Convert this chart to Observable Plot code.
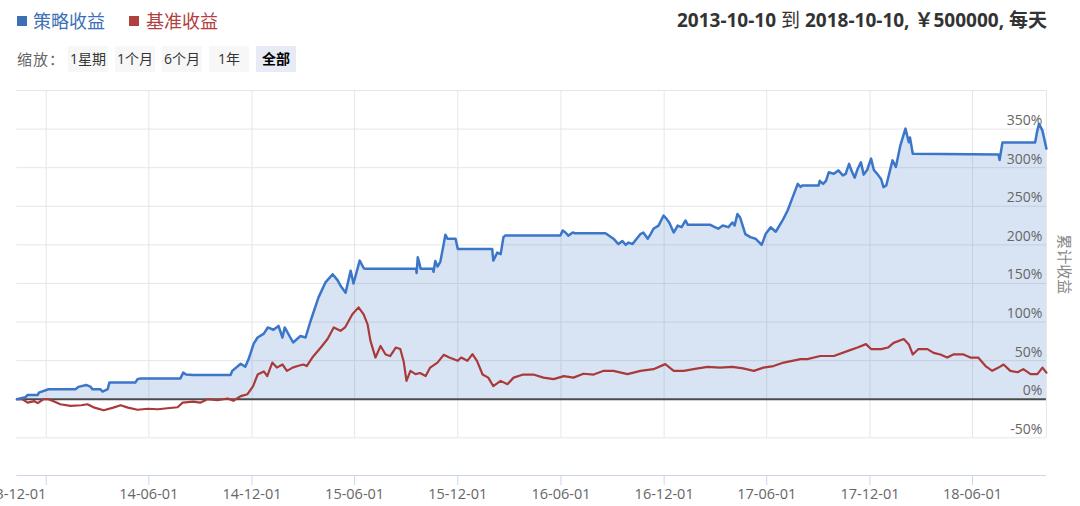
<!DOCTYPE html>
<html><head><meta charset="utf-8">
<script src="https://cdn.jsdelivr.net/npm/d3@7"></script>
<script src="https://cdn.jsdelivr.net/npm/@observablehq/plot@0.6"></script>
<style>
body{margin:0;background:#fff;font-family:"Open Sans","Noto Sans CJK SC",sans-serif;}
#wrap{position:relative;width:1080px;height:506px;overflow:hidden;background:#fff;}
.abs{position:absolute;white-space:nowrap;}
.sq{position:absolute;width:10px;height:10px;}
.leg{font-size:18px;line-height:18px;top:12px;}
.btn{position:absolute;top:46px;height:26px;line-height:26px;text-align:center;font-size:14px;color:#333;background:#f7f7f7;}
#chart{position:absolute;left:0;top:80px;}
</style></head><body>
<div id="wrap">
  <div id="legend"></div>
  <div id="title" class="abs" style="right:33px;top:9px;font-size:19px;line-height:22px;font-weight:bold;color:#333;"></div>
  <div id="zoom"></div>
  <div id="chart"></div>
</div>
<script>
// ---------- data ----------
const seriesNames = ["策略收益", "基准收益"];
const seriesColors = ["#3b76c9", "#aa3a3a"];
const legendColors = ["#3d6fb6", "#b0403d"];
const titleParts = ["2013-10-10", "到", "2018-10-10, ￥500000, 每天"];
const zoomLabel = "缩放：";
const zoomButtons = ["1星期", "1个月", "6个月", "1年", "全部"];
const yAxisTitle = "累计收益";
const startDate = "2013-10-10";
const endDate = "2018-10-10";
const xTickDates = ["2013-12-01","2014-06-01","2014-12-01","2015-06-01","2015-12-01","2016-06-01","2016-12-01","2017-06-01","2017-12-01","2018-06-01"];
const yTicks = [-50, 0, 50, 100, 150, 200, 250, 300, 350, 400];
const yLabelTicks = [-50, 0, 50, 100, 150, 200, 250, 300, 350];

const strategy = [
["2013-10-10",0],["2013-10-25",2.5],["2013-10-29",5.5],["2013-11-16",5.5],["2013-11-18",8.6],["2013-12-05",13],
["2014-01-22",13],["2014-01-27",16],["2014-02-10",18.5],["2014-02-18",16],["2014-02-21",13],["2014-03-07",13],
["2014-03-11",10],["2014-03-20",13],["2014-03-23",21.6],["2014-05-08",21.6],["2014-05-12",26],["2014-05-17",27],
["2014-07-27",27],["2014-08-01",34.5],["2014-08-06",32],["2014-08-19",31.5],["2014-10-24",31.5],["2014-10-27",36.8],
["2014-11-11",46],["2014-11-19",42],["2014-11-25",52],["2014-12-04",72],["2014-12-11",80],["2014-12-22",85],
["2014-12-29",93],["2015-01-08",90],["2015-01-17",95],["2015-01-24",80],["2015-01-28",93],["2015-02-07",80],
["2015-02-12",73.5],["2015-02-25",82],["2015-03-06",80],["2015-03-15",101.7],["2015-03-29",132],["2015-04-10",151],
["2015-04-23",162],["2015-05-02",154],["2015-05-07",147],["2015-05-16",138],["2015-05-25",166.6],["2015-05-30",150],
["2015-06-10",179.6],["2015-06-17",170],["2015-06-20",169],["2015-09-18",169],["2015-09-19",163.6],["2015-09-21",184],
["2015-09-24",176],["2015-09-26",169],["2015-10-18",169],["2015-10-19",165],["2015-10-22",179],["2015-10-26",172],
["2015-10-31",178],["2015-11-06",201],["2015-11-09",213],["2015-11-13",207.8],["2015-11-27",207.8],["2015-12-01",194.8],
["2016-01-31",194.8],["2016-02-02",179.6],["2016-02-09",190],["2016-02-15",188],["2016-02-20",210],["2016-02-23",212],
["2016-05-31",212],["2016-06-04",218.6],["2016-06-09",216],["2016-06-14",212],["2016-06-22",216],["2016-06-26",215],
["2016-08-19",215],["2016-09-02",208],["2016-09-11",201],["2016-09-18",205],["2016-09-24",200],["2016-09-29",203],
["2016-10-06",201],["2016-10-20",214],["2016-10-25",216],["2016-11-02",208],["2016-11-07",214],["2016-11-12",220.8],
["2016-11-21",225],["2016-11-30",238],["2016-12-05",234],["2016-12-10",229],["2016-12-18",216],["2016-12-25",225],
["2017-01-01",223],["2017-01-08",231.6],["2017-01-12",226],["2017-02-21",226],["2017-03-01",223],["2017-03-07",221],
["2017-03-15",225],["2017-03-25",223],["2017-04-01",229],["2017-04-05",225],["2017-04-10",240],["2017-04-15",235],
["2017-04-24",214],["2017-05-03",210],["2017-05-12",208],["2017-05-23",200],["2017-05-30",214],["2017-06-08",222.8],
["2017-06-17",217],["2017-06-29",231.6],["2017-07-08",244.5],["2017-07-17",261.8],["2017-07-26",279],["2017-07-31",275],
["2017-08-03",277],["2017-09-01",277],["2017-09-03",283],["2017-09-09",279],["2017-09-14",283],["2017-09-19",294],
["2017-09-28",292],["2017-10-06",296.5],["2017-10-14",290],["2017-10-19",292],["2017-10-25",305],["2017-10-30",295],
["2017-11-04",287],["2017-11-09",298],["2017-11-15",307],["2017-11-20",291],["2017-11-26",297],["2017-12-03",311.7],
["2017-12-08",297],["2017-12-15",291],["2017-12-21",285],["2017-12-25",274.8],["2017-12-30",277],["2018-01-10",309.5],
["2018-01-16",301],["2018-01-24",329],["2018-02-02",350.6],["2018-02-08",333],["2018-02-10",339],["2018-02-15",318],
["2018-07-17",317],["2018-07-19",310],["2018-07-24",332.5],["2018-09-20",332.5],["2018-09-24",348.4],["2018-09-27",357],
["2018-10-03",348],["2018-10-10",324.7]
];

const benchmark = [
["2013-10-10",0],["2013-10-20",0],["2013-10-29",-4.4],["2013-11-10",-2.5],["2013-11-16",-5],["2013-11-26",0],
["2013-12-05",0],["2013-12-15",-3],["2013-12-26",-6.5],["2014-01-13",-8.5],["2014-02-01",-7.8],["2014-02-12",-6.5],
["2014-02-23",-10.5],["2014-03-13",-14.3],["2014-03-30",-10.8],["2014-04-12",-7.8],["2014-04-25",-10.8],["2014-05-12",-13.6],
["2014-05-30",-12.3],["2014-06-17",-13],["2014-07-04",-11.7],["2014-07-22",-10.4],["2014-07-31",-4.4],["2014-08-19",-3.2],
["2014-08-31",-4.4],["2014-09-13",0],["2014-10-01",-1.2],["2014-10-19",1],["2014-10-29",-2],["2014-11-11",4],
["2014-11-23",6.5],["2014-12-03",17],["2014-12-11",32],["2014-12-22",36],["2014-12-28",30],["2015-01-06",47.5],
["2015-01-14",41],["2015-01-24",45],["2015-02-01",36.8],["2015-02-11",41],["2015-02-20",43],["2015-03-02",45],
["2015-03-08",43],["2015-03-18",54],["2015-04-02",67],["2015-04-14",78],["2015-04-25",93],["2015-05-07",88.6],
["2015-05-15",93],["2015-05-28",110],["2015-06-08",119],["2015-06-17",110],["2015-06-24",97],["2015-06-29",76],
["2015-07-08",54],["2015-07-17",69],["2015-07-26",58],["2015-08-03",56],["2015-08-13",67],["2015-08-21",65],
["2015-08-27",49],["2015-09-01",23.8],["2015-09-08",36.8],["2015-09-17",32.5],["2015-09-25",34],["2015-10-05",30],
["2015-10-13",41],["2015-10-26",47.5],["2015-11-06",57.5],["2015-11-16",54],["2015-12-01",49.8],["2015-12-07",54],
["2015-12-18",49.8],["2015-12-27",58.4],["2016-01-04",49.8],["2016-01-14",32],["2016-01-24",28],["2016-02-02",17],
["2016-02-15",23.8],["2016-02-27",19.5],["2016-03-09",28],["2016-03-26",32],["2016-04-13",32],["2016-05-01",28],
["2016-05-19",26],["2016-06-06",30],["2016-06-23",28],["2016-07-11",33],["2016-07-29",32],["2016-08-16",36.8],
["2016-09-02",36.8],["2016-09-27",32.5],["2016-10-20",36.8],["2016-11-12",39],["2016-12-03",45.5],["2016-12-18",36.8],
["2017-01-05",36.8],["2017-01-22",39],["2017-02-16",42],["2017-03-10",41],["2017-04-01",42],["2017-04-20",40],
["2017-05-09",36.8],["2017-05-26",41],["2017-06-13",43],["2017-07-01",47.5],["2017-07-31",52],["2017-08-12",52],
["2017-09-04",56],["2017-09-28",56],["2017-10-23",62.7],["2017-11-09",67],["2017-11-24",71.4],["2017-12-03",65],
["2017-12-21",65],["2018-01-02",67],["2018-01-12",73],["2018-01-30",78],["2018-02-08",71],["2018-02-15",58],
["2018-02-25",65],["2018-03-13",65],["2018-03-24",60],["2018-04-05",58],["2018-04-17",54],["2018-04-28",58],
["2018-05-16",58],["2018-05-28",54],["2018-06-11",54],["2018-06-24",43],["2018-07-06",36.8],["2018-07-17",41],
["2018-07-26",45],["2018-08-07",36.8],["2018-08-20",35],["2018-08-30",39],["2018-09-12",32.5],["2018-09-24",32.5],
["2018-10-03",41],["2018-10-10",34.5]
];

// ---------- header (HTML) ----------
const legendEl = document.getElementById("legend");
const legPos = [{sq:17, tx:33}, {sq:129, tx:146}];
seriesNames.forEach((n, i) => {
  const s = document.createElement("div");
  s.className = "sq"; s.style.left = legPos[i].sq + "px"; s.style.top = "16px"; s.style.background = legendColors[i];
  legendEl.appendChild(s);
  const t = document.createElement("div");
  t.className = "abs leg"; t.style.left = legPos[i].tx + "px"; t.style.color = legendColors[i]; t.textContent = n;
  legendEl.appendChild(t);
});
document.getElementById("title").innerHTML =
  `${titleParts[0]} <span style="font-weight:normal">${titleParts[1]}</span> ${titleParts[2]}`;
const zoomEl = document.getElementById("zoom");
const zl = document.createElement("div");
zl.className = "abs"; zl.style.cssText = "left:17px;top:49px;font-size:15px;line-height:20px;color:#666;letter-spacing:1px;";
zl.textContent = zoomLabel; zoomEl.appendChild(zl);
const btnPos = [68, 115, 162, 209, 256];
zoomButtons.forEach((b, i) => {
  const e = document.createElement("div");
  e.className = "btn"; e.style.left = btnPos[i] + "px"; e.style.width = "40px"; e.textContent = b;
  if (i === zoomButtons.length - 1) { e.style.background = "#e6ebf5"; e.style.fontWeight = "bold"; e.style.color = "#000"; }
  zoomEl.appendChild(e);
});

// ---------- chart ----------
const parse = d3.utcParse("%Y-%m-%d");
const fmt = d3.utcFormat("%y-%m-%d");
const toRows = (arr, name) => arr.map(([d, v]) => ({date: parse(d), value: v, series: name}));
const S = toRows(strategy, seriesNames[0]);
const B = toRows(benchmark, seriesNames[1]);
const x0 = parse(startDate), x1 = parse(endDate);
const xt = xTickDates.map(parse);
const yBottom = -98.8;

const chart = Plot.plot({
  width: 1080, height: 426,
  marginLeft: 16.4, marginRight: 34.1, marginTop: 10, marginBottom: 31,
  x: {type: "utc", domain: [x0, x1], axis: null},
  y: {domain: [yBottom, 400], axis: null},
  style: {fontFamily: '"Open Sans","Noto Sans CJK SC",sans-serif', background: "transparent", overflow: "hidden"},
  marks: [
    Plot.ruleY(yTicks, {stroke: "#e6e6e6"}),
    Plot.ruleX(xt, {y1: -50, y2: 400, stroke: "#e6e6e6"}),
    Plot.ruleX([x1], {y1: -50, y2: 400, stroke: "#e6e6e6"}),
    Plot.areaY(S, {x: "date", y: "value", fill: seriesColors[0], fillOpacity: 0.2}),
    Plot.ruleY([0], {stroke: "#4a4a4a", strokeWidth: 2}),
    Plot.lineY(B, {x: "date", y: "value", stroke: seriesColors[1], strokeWidth: 2.2}),
    Plot.lineY(S, {x: "date", y: "value", stroke: seriesColors[0], strokeWidth: 2.5}),
    Plot.ruleY([yBottom], {stroke: "#ccd6eb"}),
    Plot.ruleX(xt, {y1: yBottom, y2: yBottom - 10 / 0.7718, stroke: "#ccd6eb"}),
    Plot.text(xt.slice(0, 1), {x: d => d, y: yBottom, text: d => fmt(d), textAnchor: "end", lineAnchor: "top", dy: 13, fontSize: 14.5, fill: "#666"}),
    Plot.text(xt.slice(1), {x: d => d, y: yBottom, text: d => fmt(d), lineAnchor: "top", dy: 13, fontSize: 14.5, fill: "#666"}),
    Plot.text(yLabelTicks, {x: () => x1, y: d => d, text: d => d + "%", textAnchor: "end", lineAnchor: "bottom", dx: -4, dy: -4, fontSize: 14, fill: "#666"}),
    Plot.text([yAxisTitle], {x: () => x1, y: () => 175, text: d => d, rotate: 90, dx: 17, fontSize: 15, fill: "#888"})
  ]
});
document.getElementById("chart").appendChild(chart);
</script>
</body></html>
